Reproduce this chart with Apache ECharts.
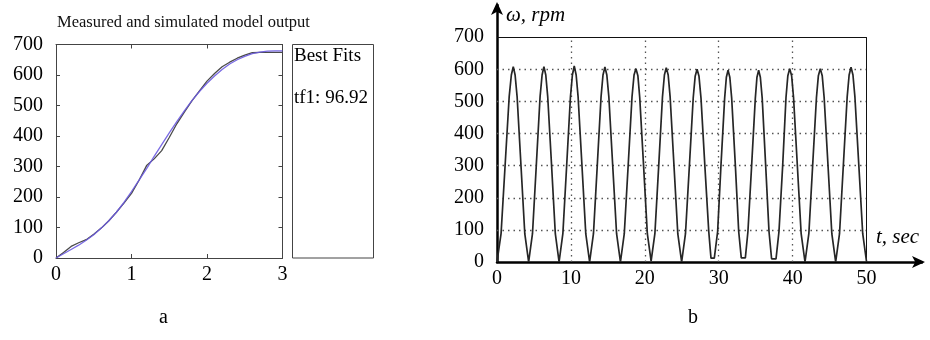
<!DOCTYPE html>
<html>
<head>
<meta charset="utf-8">
<script src="https://cdn.jsdelivr.net/npm/echarts@6/dist/echarts.min.js"></script>
<style>
html,body{margin:0;padding:0;background:#fff;}
#c{width:930px;height:340px;}
</style>
</head>
<body>
<div id="c"></div>
<script>
// ---- Panel a: measured and simulated model output ----
var fitTime = [0,0.1,0.2,0.3,0.4,0.5,0.6,0.7,0.8,0.9,1.0,1.1,1.2,1.3,1.4,1.5,1.6,1.7,1.8,1.9,2.0,2.1,2.2,2.3,2.4,2.5,2.6,2.7,2.8,2.9,3.0];
var measured = [0,18,38,50,60,78,98,122,150,180,212,255,303,325,352,395,440,478,515,548,580,605,627,642,655,665,673,674,674,674,674];
var simulated = [0,14,28,42,58,76,98,122,150,182,218,255,293,333,372,410,447,482,516,546,573,597,618,636,650,661,670,675,678,679,679];
var fitXTicks = [0,1,2,3];
var fitYTicks = [0,100,200,300,400,500,600,700];
var bestFitLabel = 'tf1: 96.92';

// ---- Panel b: omega(t) ----
var omegaT = [0,0.55,1.1,1.65,1.94,2.2,2.45,2.72,3.24,3.76,4.28,4.8,5.32,5.83,6.1,6.35,6.6,6.86,7.38,7.89,8.4,8.91,9.43,9.94,10.2,10.45,10.71,10.97,11.49,12.01,12.53,13.05,13.57,14.08,14.34,14.6,14.86,15.13,15.65,16.18,16.7,17.22,17.75,18.27,18.54,18.8,19.06,19.31,19.83,20.34,20.85,21.36,21.88,22.39,22.65,22.9,23.16,23.42,23.94,24.46,24.98,25.5,26.03,26.55,26.81,27.07,27.33,27.6,28.12,28.65,28.95,29.4,29.85,30.3,30.8,31.03,31.26,31.5,31.75,32.25,32.7,33.05,33.6,33.95,34.45,34.95,35.17,35.4,35.63,35.88,36.35,36.8,37.15,37.75,38.15,38.65,39.1,39.35,39.6,39.86,40.12,40.63,41.15,41.67,42.19,42.71,43.22,43.48,43.74,44.0,44.26,44.78,45.3,45.82,46.34,46.86,47.38,47.64,47.9,48.16,48.42,48.95,49.48,50];
var omegaV = [0,88,302,515,582,608,582,515,302,88,0,88,302,515,582,608,582,515,302,88,0,88,302,515,582,610,582,515,302,88,0,88,302,515,582,607,582,515,302,88,0,88,302,515,582,602,580,512,300,88,3,88,300,515,582,605,582,515,302,88,0,88,300,512,578,600,578,510,300,95,12,12,95,300,510,575,597,575,510,300,95,13,13,95,300,510,575,597,575,510,300,95,10,10,95,300,512,580,602,580,512,302,88,0,88,302,512,580,602,580,512,302,88,0,88,302,515,582,606,582,515,302,88,0];
var omegaXTicks = [0,10,20,30,40,50];
var omegaYTicks = [0,100,200,300,400,500,600,700];

var serif = '"Liberation Serif","DejaVu Serif",serif';

function pairs(xs, ys){ return xs.map(function(x,i){ return [x, ys[i]]; }); }

// grid lines of panel b as data-space mark lines
var gridMarks = [];
omegaYTicks.forEach(function(v){
  if (v > 0 && v < 700) gridMarks.push([{coord:[0,v]},{coord:[50,v]}]);
});
omegaXTicks.forEach(function(v){
  if (v > 0 && v < 50) gridMarks.push([{coord:[v,0]},{coord:[v,700]}]);
});
var borderMarks = [
  [{coord:[0,700]},{coord:[50,700]}],
  [{coord:[50,0]},{coord:[50,700]}]
];

var boxAxisLine = {show:true, onZero:false, lineStyle:{color:'#444', width:1}};
var inTick = {show:true, inside:true, length:4, lineStyle:{color:'#444', width:1}};

var option = {
  animation:false,
  backgroundColor:'#fff',
  title:{
    text:'Measured and simulated model output',
    left:52, top:9,
    textStyle:{fontFamily:serif, fontSize:16.5, fontWeight:'normal', color:'#111'}
  },
  grid:[
    {left:56, top:44.5, width:226.5, height:213.5, containLabel:false},
    {left:497, top:5, width:425, height:257, containLabel:false}
  ],
  xAxis:[
    {gridIndex:0, type:'value', min:0, max:3, interval:1, position:'bottom',
     axisLine:boxAxisLine, axisTick:inTick, splitLine:{show:false},
     axisLabel:{fontFamily:serif, fontSize:20, color:'#000', margin:7}},
    {gridIndex:0, type:'value', min:0, max:3, interval:1, position:'top',
     axisLine:boxAxisLine, axisTick:inTick, splitLine:{show:false}, axisLabel:{show:false}},
    {gridIndex:1, type:'value', min:0, max:57.5, interval:10, position:'bottom',
     axisLine:{show:true, onZero:false, symbol:['none','arrow'], symbolSize:[9,13], symbolOffset:[0,3], lineStyle:{color:'#000', width:2.5}},
     axisTick:{show:false}, splitLine:{show:false},
     axisLabel:{fontFamily:serif, fontSize:20, color:'#000', margin:7, showMaxLabel:false}}
  ],
  yAxis:[
    {gridIndex:0, type:'value', min:0, max:700, interval:100, position:'left',
     axisLine:boxAxisLine, axisTick:inTick, splitLine:{show:false},
     axisLabel:{fontFamily:serif, fontSize:20, color:'#000', margin:13}},
    {gridIndex:0, type:'value', min:0, max:700, interval:100, position:'right',
     axisLine:boxAxisLine, axisTick:inTick, splitLine:{show:false}, axisLabel:{show:false}},
    {gridIndex:1, type:'value', min:0, max:800, interval:100, position:'left',
     axisLine:{show:true, onZero:false, symbol:['none','arrow'], symbolSize:[9,13], symbolOffset:[0,3], lineStyle:{color:'#000', width:2.5}},
     axisTick:{show:false}, splitLine:{show:false},
     axisLabel:{fontFamily:serif, fontSize:20, color:'#000', margin:13, showMaxLabel:false}}
  ],
  series:[
    {type:'line', xAxisIndex:0, yAxisIndex:0, data:pairs(fitTime, measured),
     showSymbol:false, lineStyle:{color:'#4a4a4a', width:1.3}, z:3},
    {type:'line', xAxisIndex:0, yAxisIndex:0, data:pairs(fitTime, simulated),
     showSymbol:false, lineStyle:{color:'#6a5ae0', width:1.3, opacity:0.9}, z:4},
    {type:'line', xAxisIndex:2, yAxisIndex:2, data:pairs(omegaT, omegaV),
     showSymbol:false, lineStyle:{color:'#262626', width:1.7}, z:5,
     markLine:{silent:true, symbol:['none','none'], label:{show:false}, animation:false,
       lineStyle:{color:'#555', width:1.3, type:[1.5,4]},
       data:gridMarks}},
    {type:'line', xAxisIndex:2, yAxisIndex:2, data:[],
     markLine:{silent:true, symbol:['none','none'], label:{show:false}, animation:false,
       lineStyle:{color:'#111', width:1, type:'solid'},
       data:borderMarks}}
  ],
  graphic:[
    {type:'rect', shape:{x:292.5, y:44.5, width:81, height:213.5},
     style:{fill:'none', stroke:'#444', lineWidth:1}},
    {type:'text', left:294, top:47, style:{text:'Best Fits', font:'19px '+serif, fill:'#000'}},
    {type:'text', left:294, top:89, style:{text:bestFitLabel, font:'19px '+serif, fill:'#000'}},
    {type:'text', left:506, top:5, style:{text:'ω, rpm', font:'italic 21px '+serif, fill:'#000'}},
    {type:'text', left:876, top:227, style:{text:'t, sec', font:'italic 21px '+serif, fill:'#000'}},
    {type:'text', left:159, top:308, style:{text:'a', font:'20px '+serif, fill:'#000'}},
    {type:'text', left:688, top:308, style:{text:'b', font:'20px '+serif, fill:'#000'}}
  ]
};
echarts.init(document.getElementById('c')).setOption(option);
</script>
</body>
</html>
